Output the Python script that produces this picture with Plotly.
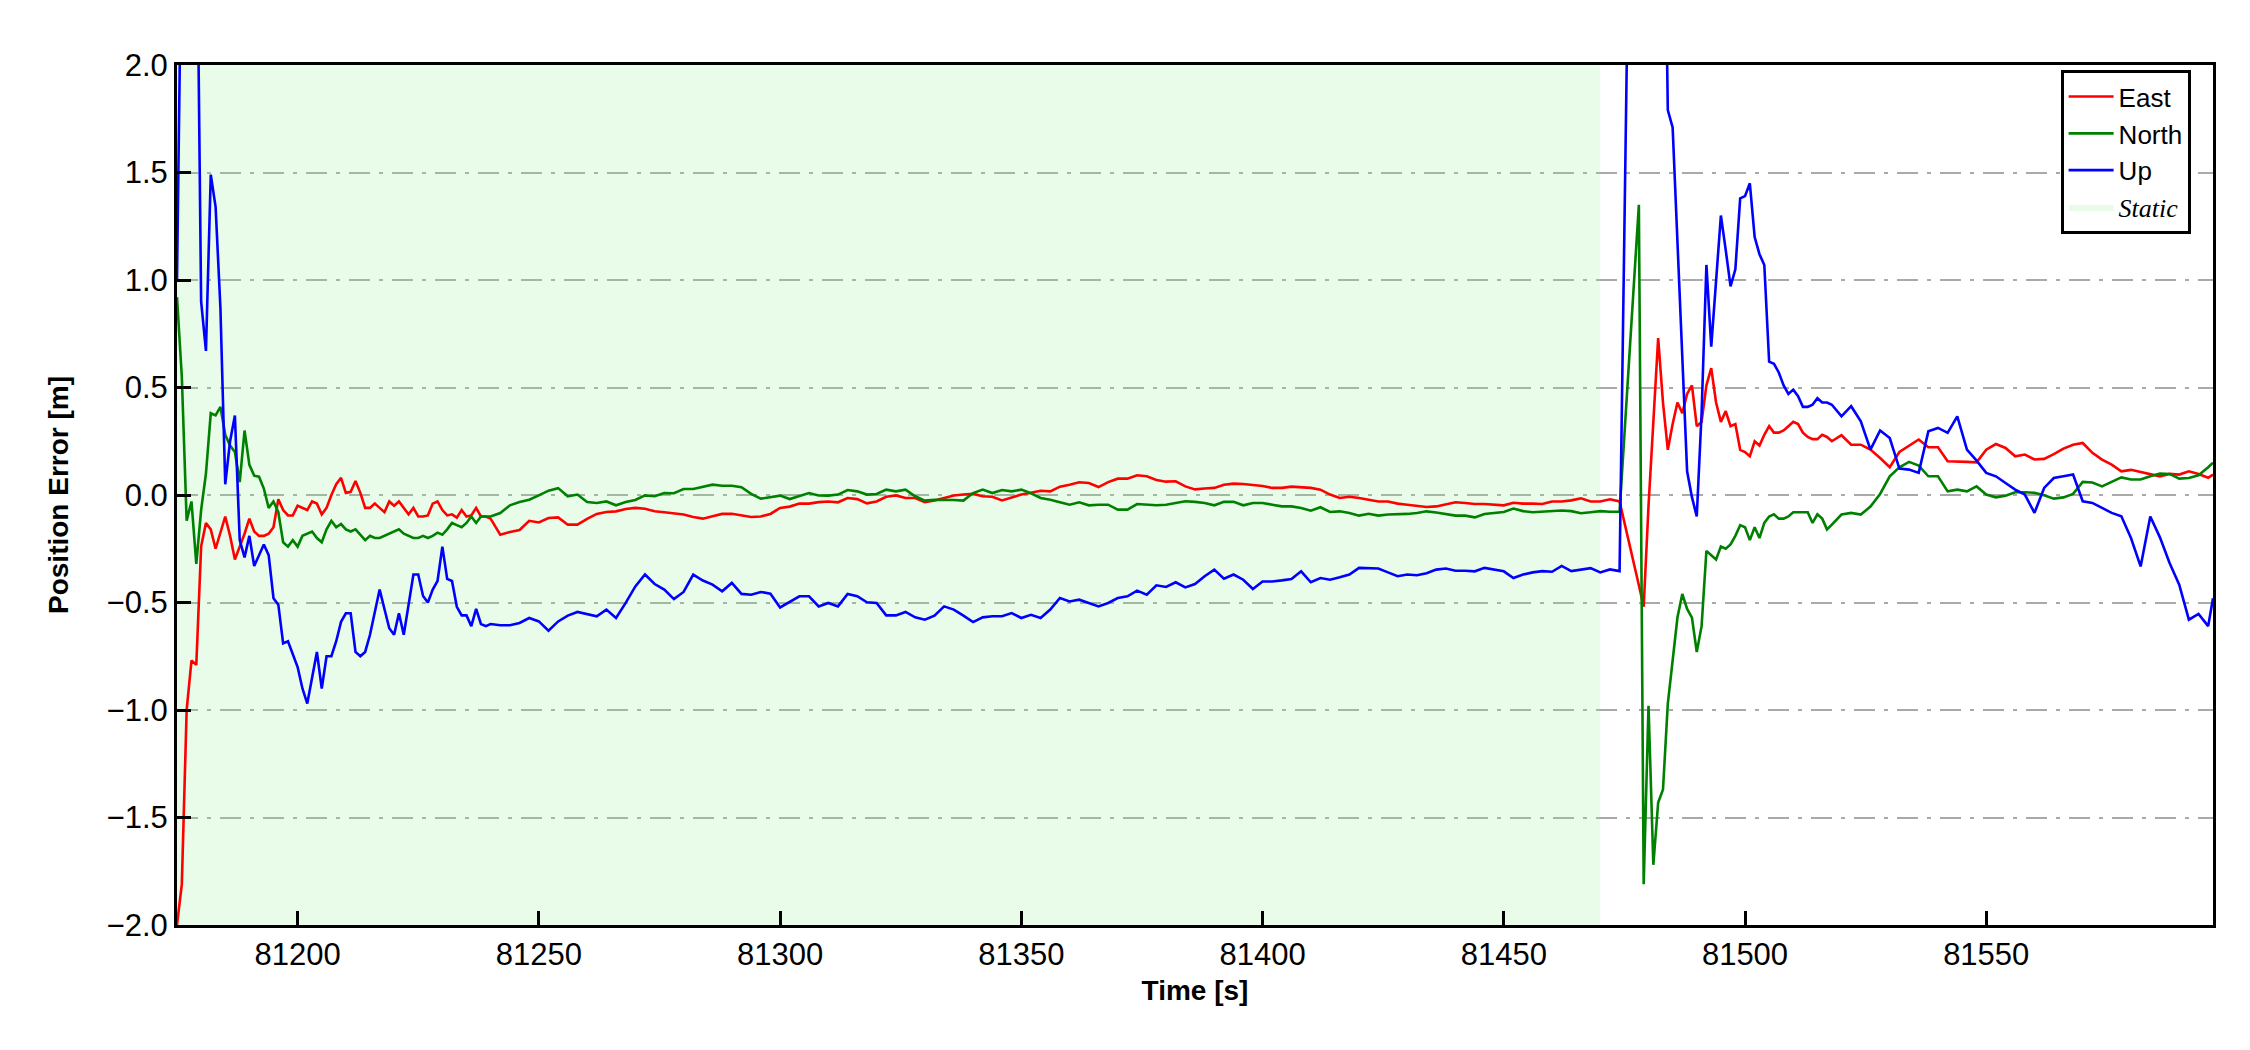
import plotly.graph_objects as go

# Time axis (s): 1 Hz around the convergence / motion phases, 2 s elsewhere,
# short data gap after the static period
TIME = (list(range(81175, 81241)) + list(range(81242, 81475, 2))
        + list(range(81478, 81518)) + list(range(81518, 81597, 2)) + [81597])

STATIC_START = 81175
STATIC_END = 81470
Y_MIN, Y_MAX = -2.0, 2.0
X_TICKS = [81200, 81250, 81300, 81350, 81400, 81450, 81500, 81550]

# East position error (m)
EAST = [
    # 81175 - 81240
    -2.0, -1.81, -1.0, -0.77, -0.79, -0.24, -0.13, -0.16, -0.25, -0.17,
    -0.10, -0.19, -0.30, -0.24, -0.18, -0.11, -0.17, -0.19, -0.19, -0.18,
    -0.15, -0.02, -0.07, -0.095, -0.095, -0.05, -0.06, -0.07, -0.03, -0.04,
    -0.09, -0.06, 0.0, 0.05, 0.08, 0.01, 0.015, 0.065, 0.01, -0.06,
    -0.06, -0.04, -0.06, -0.08, -0.03, -0.05, -0.03, -0.06, -0.09, -0.06,
    -0.10, -0.10, -0.095, -0.04, -0.03, -0.07, -0.095, -0.09, -0.105, -0.07,
    -0.10, -0.095, -0.06, -0.10, -0.10, -0.11,
    # 81242 - 81474
    -0.185, -0.172, -0.163, -0.12, -0.128, -0.107, -0.104, -0.138, -0.138, -0.111,
    -0.088, -0.079, -0.076, -0.065, -0.06, -0.064, -0.076, -0.08, -0.087, -0.091,
    -0.102, -0.11, -0.099, -0.088, -0.087, -0.095, -0.102, -0.1, -0.088, -0.06,
    -0.054, -0.04, -0.04, -0.033,
    -0.03, -0.034, -0.014, -0.019, -0.039, -0.03, -0.008, -0.002, -0.014, -0.014,
    -0.033, -0.026, -0.014, -0.002, 0.002, 0.005, -0.006, -0.008, -0.025, -0.011,
    0.002, 0.01, 0.02, 0.017, 0.039, 0.048, 0.059, 0.056, 0.037, 0.06,
    0.076, 0.076, 0.092, 0.087, 0.07, 0.062,
    0.064, 0.04, 0.026, 0.03, 0.033, 0.048, 0.053, 0.051, 0.048, 0.042,
    0.033, 0.033, 0.039, 0.036, 0.033, 0.025, 0.002, -0.014, -0.008, -0.014,
    -0.022, -0.03, -0.03, -0.04, -0.045, -0.05, -0.056, -0.053, -0.045, -0.034,
    -0.037, -0.042, -0.042, -0.045, -0.048, -0.036,
    -0.04, -0.04, -0.042, -0.03, -0.03, -0.025, -0.015, -0.03, -0.03, -0.02, -0.03,
    # 81478 - 81517
    -0.42, -0.52, -0.05, 0.37, 0.73, 0.43, 0.21, 0.33, 0.43, 0.38,
    0.47, 0.51, 0.32, 0.34, 0.51, 0.59, 0.43, 0.34, 0.39, 0.32,
    0.33, 0.21, 0.20, 0.18, 0.25, 0.23, 0.28, 0.32, 0.29, 0.29,
    0.30, 0.32, 0.34, 0.33, 0.29, 0.27, 0.26, 0.26, 0.28, 0.27,
    # 81518 - 81597
    0.25, 0.278, 0.234, 0.234, 0.211, 0.172, 0.129, 0.2, 0.227, 0.258,
    0.222, 0.222, 0.157, 0.154, 0.154, 0.152, 0.211, 0.237, 0.219, 0.18,
    0.188, 0.165, 0.168, 0.19, 0.216, 0.234, 0.242, 0.196, 0.165, 0.141,
    0.11, 0.117, 0.107, 0.095, 0.087, 0.098, 0.095, 0.11, 0.098, 0.08, 0.095,
]

# North position error (m)
NORTH = [
    # 81175 - 81240
    0.92, 0.55, -0.12, -0.03, -0.32, -0.07, 0.10, 0.38, 0.37, 0.41,
    0.28, 0.23, 0.20, 0.06, 0.30, 0.14, 0.09, 0.085, 0.03, -0.06,
    -0.03, -0.08, -0.22, -0.24, -0.21, -0.24, -0.19, -0.18, -0.17, -0.20,
    -0.22, -0.16, -0.12, -0.15, -0.135, -0.16, -0.17, -0.16, -0.185, -0.21,
    -0.19, -0.20, -0.20, -0.19, -0.18, -0.17, -0.16, -0.18, -0.19, -0.20,
    -0.20, -0.19, -0.20, -0.19, -0.175, -0.185, -0.16, -0.13, -0.14, -0.15,
    -0.13, -0.10, -0.13, -0.10, -0.10, -0.10,
    # 81242 - 81474
    -0.084, -0.048, -0.033, -0.022, -0.002, 0.02, 0.032, -0.006, 0.002, -0.033,
    -0.037, -0.03, -0.048, -0.033, -0.023, -0.002, -0.006, 0.009, 0.008, 0.028,
    0.028, 0.037, 0.048, 0.043, 0.043, 0.036, 0.005, -0.017, -0.009, -0.003,
    -0.019, -0.006, 0.009, -0.002,
    -0.003, 0.002, 0.023, 0.017, 0.002, 0.005, 0.025, 0.017, 0.025, -0.006,
    -0.026, -0.022, -0.022, -0.023, -0.026, 0.009, 0.025, 0.009, 0.023, 0.017,
    0.025, 0.008, -0.014, -0.022, -0.034, -0.045, -0.034, -0.048, -0.045, -0.045,
    -0.068, -0.068, -0.042, -0.045, -0.048, -0.045,
    -0.037, -0.029, -0.032, -0.037, -0.048, -0.032, -0.032, -0.048, -0.037, -0.037,
    -0.045, -0.053, -0.053, -0.06, -0.073, -0.057, -0.079, -0.076, -0.084, -0.096,
    -0.087, -0.096, -0.091, -0.091, -0.088, -0.084, -0.076, -0.081, -0.087, -0.096,
    -0.096, -0.104, -0.088, -0.084, -0.079, -0.063,
    -0.075, -0.08, -0.078, -0.075, -0.072, -0.075, -0.085, -0.08, -0.075, -0.078, -0.078,
    # 81478 - 81517
    1.35, -1.81, -0.98, -1.72, -1.43, -1.37, -0.97, -0.78, -0.57, -0.46,
    -0.53, -0.57, -0.73, -0.61, -0.26, -0.28, -0.30, -0.24, -0.25, -0.23,
    -0.19, -0.14, -0.15, -0.21, -0.15, -0.20, -0.13, -0.10, -0.09, -0.11,
    -0.11, -0.10, -0.08, -0.08, -0.08, -0.08, -0.13, -0.09, -0.11, -0.16,
    # 81518 - 81597
    -0.138, -0.091, -0.083, -0.091, -0.054, 0.005, 0.087, 0.129, 0.154, 0.137,
    0.087, 0.087, 0.017, 0.025, 0.017, 0.04, 0.002, -0.011, -0.003, 0.013,
    0.013, 0.01, -0.001, -0.017, -0.011, 0.005, 0.061, 0.058, 0.04, 0.061,
    0.082, 0.072, 0.072, 0.087, 0.1, 0.098, 0.076, 0.079, 0.092, 0.129, 0.15,
]

# Up position error (m)
UP = [
    # 81175 - 81240
    1.0, 3.5, 4.5, 4.0, 3.0, 0.90, 0.67, 1.49, 1.34, 0.87,
    0.05, 0.25, 0.37, -0.21, -0.29, -0.19, -0.33, -0.28, -0.23, -0.28,
    -0.48, -0.51, -0.69, -0.68, -0.74, -0.80, -0.90, -0.97, -0.85, -0.73,
    -0.90, -0.75, -0.75, -0.68, -0.59, -0.55, -0.55, -0.73, -0.75, -0.73,
    -0.65, -0.55, -0.44, -0.53, -0.62, -0.65, -0.55, -0.65, -0.50, -0.37,
    -0.37, -0.47, -0.50, -0.44, -0.40, -0.24, -0.39, -0.40, -0.52, -0.56,
    -0.56, -0.61, -0.53, -0.60, -0.61, -0.60,
    # 81242 - 81474
    -0.606, -0.606, -0.595, -0.572, -0.588, -0.631, -0.588, -0.561, -0.544, -0.553,
    -0.564, -0.533, -0.572, -0.502, -0.425, -0.37, -0.414, -0.44, -0.484, -0.451,
    -0.37, -0.398, -0.417, -0.448, -0.409, -0.46, -0.464, -0.451, -0.459, -0.523,
    -0.495, -0.471, -0.471, -0.518,
    -0.502, -0.518, -0.46, -0.471, -0.499, -0.502, -0.56, -0.56, -0.544, -0.569,
    -0.58, -0.561, -0.518, -0.533, -0.561, -0.591, -0.569, -0.564, -0.564, -0.549,
    -0.572, -0.557, -0.572, -0.533, -0.479, -0.495, -0.487, -0.502, -0.518, -0.502,
    -0.479, -0.471, -0.445, -0.464, -0.42, -0.428,
    -0.406, -0.43, -0.414, -0.378, -0.347, -0.389, -0.37, -0.394, -0.437, -0.402,
    -0.402, -0.397, -0.391, -0.355, -0.406, -0.386, -0.394, -0.383, -0.37, -0.339,
    -0.342, -0.342, -0.36, -0.378, -0.37, -0.373, -0.364, -0.347, -0.342, -0.352,
    -0.352, -0.355, -0.339, -0.347, -0.355, -0.386,
    -0.37, -0.36, -0.354, -0.357, -0.33, -0.354, -0.346, -0.34, -0.36, -0.346, -0.354,
    # 81478 - 81517
    6.0, 7.0, 7.5, 6.5, 5.0, 3.5, 1.79, 1.71, 1.16, 0.60,
    0.11, -0.01, -0.10, 0.38, 1.07, 0.69, 1.0, 1.30, 1.14, 0.97,
    1.05, 1.38, 1.39, 1.45, 1.20, 1.12, 1.07, 0.62, 0.61, 0.57,
    0.51, 0.47, 0.49, 0.46, 0.41, 0.41, 0.42, 0.45, 0.43, 0.43,
    # 81518 - 81597
    0.42, 0.366, 0.413, 0.343, 0.211, 0.30, 0.265, 0.123, 0.118, 0.103,
    0.296, 0.312, 0.289, 0.366, 0.211, 0.16, 0.103, 0.087, 0.056, 0.025,
    0.002, -0.083, 0.033, 0.079, 0.087, 0.095, -0.029, -0.037, -0.06, -0.083,
    -0.099, -0.2, -0.332, -0.10, -0.197, -0.316, -0.417, -0.58, -0.553, -0.61, -0.48,
]

FONT = "Liberation Sans, Arial, sans-serif"
STATIC_FILL = "rgba(144, 238, 144, 0.2)"

fig = go.Figure()

# static period shading (drawn first so it sits under the lines, listed last in legend)
fig.add_trace(go.Scatter(
    x=[STATIC_START, STATIC_END, STATIC_END, STATIC_START],
    y=[Y_MIN, Y_MIN, Y_MAX, Y_MAX],
    fill="toself",
    fillcolor=STATIC_FILL,
    line=dict(width=0),
    mode="lines",
    hoverinfo="skip",
    name='<span style="font-family:Liberation Serif, Times New Roman, serif"><i>Static</i></span>',
    legendrank=4,
))

for rank, (name, values, color) in enumerate([("East", EAST, "#ff0000"),
                                              ("North", NORTH, "#008000"),
                                              ("Up", UP, "#0000ff")], start=1):
    fig.add_trace(go.Scatter(
        x=TIME,
        y=values,
        mode="lines",
        name=name,
        legendrank=rank,
        line=dict(color=color, width=2.6),
    ))

fig.update_layout(
    width=2250,
    height=1050,
    margin=dict(l=169, r=45, t=57, b=133),
    paper_bgcolor="white",
    plot_bgcolor="white",
    font=dict(family=FONT, color="black"),
    showlegend=True,
    legend=dict(
        x=0.989, y=0.994, xanchor="right", yanchor="top",
        bgcolor="white", bordercolor="black", borderwidth=3,
        font=dict(size=26, family=FONT),
        tracegroupgap=0,
        itemwidth=45,
    ),
)

fig.update_xaxes(
    range=[STATIC_START, 81597],
    tickvals=X_TICKS,
    tickformat="d",
    ticks="inside", ticklen=14, tickwidth=2.5, tickcolor="black",
    tickfont=dict(size=31, family=FONT),
    showline=True, linewidth=3, linecolor="black", mirror=True,
    showgrid=False, zeroline=False,
    title=dict(text="<b>Time [s]</b>", font=dict(size=28, family=FONT), standoff=10),
)

fig.update_yaxes(
    range=[Y_MIN, Y_MAX],
    dtick=0.5, tickformat=".1f",
    ticks="inside", ticklen=14, tickwidth=2.5, tickcolor="black",
    tickfont=dict(size=31, family=FONT),
    showline=True, linewidth=3, linecolor="black", mirror=True,
    showgrid=True, gridcolor="#a9a9a9", gridwidth=2, griddash="21px,9px,4px,9px",
    zeroline=False,
    title=dict(text="<b>Position Error [m]</b>", font=dict(size=28, family=FONT), standoff=30),
)

fig.write_html("out.html")
